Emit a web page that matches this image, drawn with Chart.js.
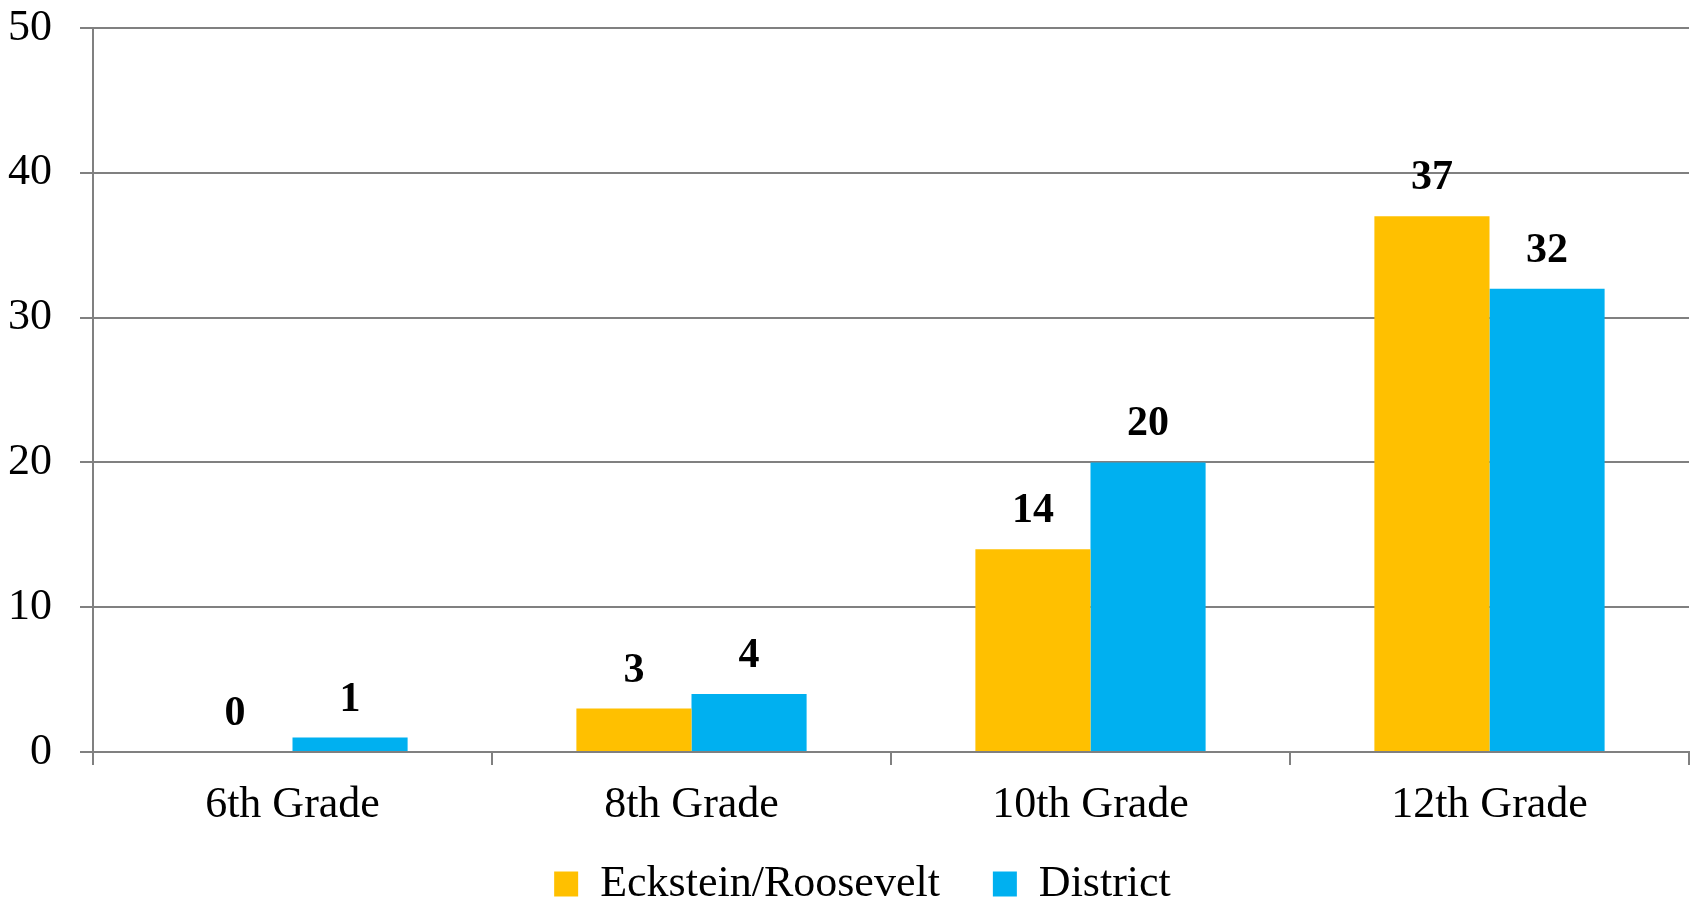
<!DOCTYPE html>
<html lang="en">
<head>
  <meta charset="UTF-8" />
  <title>Grade comparison</title>
  <script src="https://cdn.jsdelivr.net/npm/chart.js"></script>
  <style>
    html, body { margin: 0; padding: 0; background: #fff; }
    #wrap { width: 1698px; height: 902px; position: relative; }
  </style>
</head>
<body>
  <div id="wrap"><canvas id="gradeChart"></canvas></div>

  <script>
    const grades = ['6th Grade', '8th Grade', '10th Grade', '12th Grade'];
    const seriesNames = ['Eckstein/Roosevelt', 'District'];
    const ecksteinValues = [0, 3, 14, 37];
    const districtValues = [1, 4, 20, 32];
    const yTicks = [0, 10, 20, 30, 40, 50];

    const serif = "'Liberation Serif', 'DejaVu Serif', serif";
    const gridGray = '#808080';

    // values written above each bar
    const valueLabels = {
      id: 'valueLabels',
      afterDatasetsDraw(chart) {
        const ctx = chart.ctx;
        ctx.save();
        ctx.font = 'bold 42px ' + serif;
        ctx.fillStyle = '#000';
        ctx.textAlign = 'center';
        ctx.textBaseline = 'alphabetic';
        chart.data.datasets.forEach((ds, i) => {
          chart.getDatasetMeta(i).data.forEach((bar, j) => {
            ctx.fillText(String(ds.data[j]), bar.x, bar.y - 27);
          });
        });
        ctx.restore();
      }
    };

    // let the category labels run past the short x box, nudge legend a bit right
    const layoutTweak = {
      id: 'layoutTweak',
      afterLayout(chart) {
        chart.scales.x.bottom = chart.height;
        chart.legend.left += 18;
        chart.legend.right += 18;
      }
    };

    const ctx = document.getElementById('gradeChart').getContext('2d');
    new Chart(ctx, {
      type: 'bar',
      data: {
        labels: grades,
        datasets: [
          { label: seriesNames[0], data: ecksteinValues, backgroundColor: '#FFC000' },
          { label: seriesNames[1], data: districtValues, backgroundColor: '#00B0F0' }
        ]
      },
      options: {
        responsive: true,
        maintainAspectRatio: false,
        animation: false,
        layout: { padding: { left: 0, right: 9, top: 28, bottom: -14 } },
        datasets: { bar: { categoryPercentage: 0.577, barPercentage: 1.0 } },
        scales: {
          x: {
            grid: { display: true, drawOnChartArea: false, drawTicks: true, tickLength: 13, color: gridGray, lineWidth: 2, offset: true },
            border: { display: true, color: gridGray, width: 2 },
            ticks: { font: { family: serif, size: 44 }, color: '#000', padding: 14, maxRotation: 0 },
            afterFit: s => { s.height = 57; }
          },
          y: {
            min: 0,
            max: 50,
            afterBuildTicks: s => { s.ticks = yTicks.map(v => ({ value: v })); },
            grid: { color: gridGray, lineWidth: 2, tickLength: 13 },
            border: { display: true, color: gridGray, width: 2 },
            ticks: { font: { family: serif, size: 44 }, color: '#000', padding: 28 },
            afterFit: s => { s.width = 93; s.paddingTop = 0; s.paddingBottom = 0; }
          }
        },
        plugins: {
          legend: {
            position: 'bottom',
            labels: { font: { family: serif, size: 44, lineHeight: 1.0 }, color: '#000', boxWidth: 24, boxHeight: 25, padding: 53 }
          },
          tooltip: { enabled: false }
        }
      },
      plugins: [valueLabels, layoutTweak]
    });
  </script>
</body>
</html>
